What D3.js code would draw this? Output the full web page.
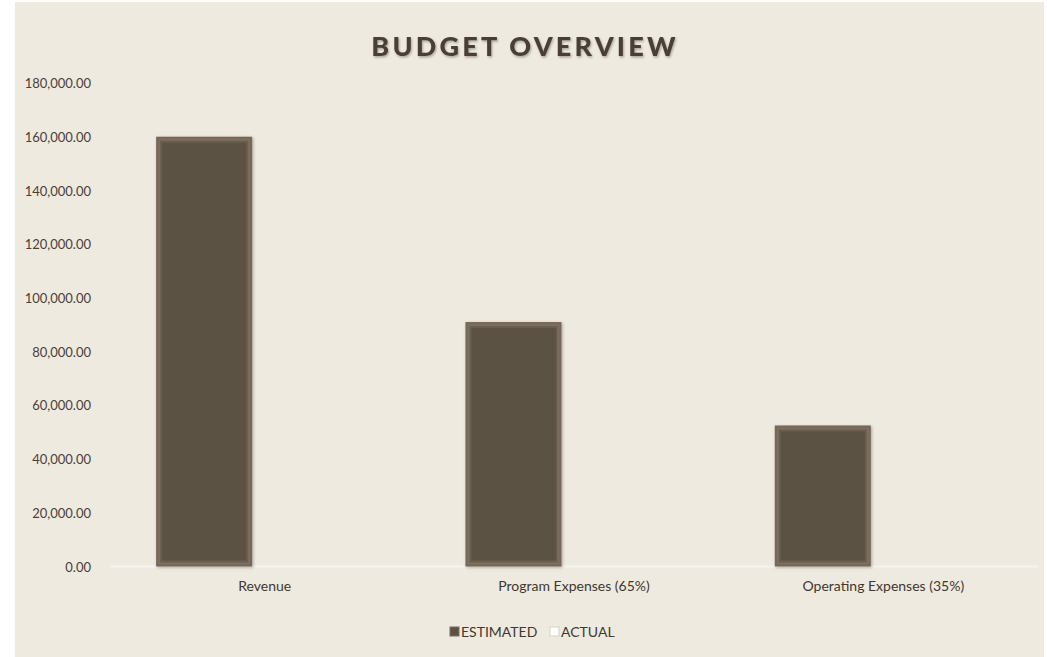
<!DOCTYPE html>
<html><head><meta charset="utf-8">
<script src="https://cdn.jsdelivr.net/npm/d3@7"></script>
<style>
html,body{margin:0;padding:0;background:#fff;}
svg{display:block;}
text{font-family:Lato,"Open Sans",sans-serif;}
</style></head>
<body>
<svg id="chart" width="1047" height="657"></svg>
<script>
const categories = ["Revenue", "Program Expenses (65%)", "Operating Expenses (35%)"];
const series = ["ESTIMATED", "ACTUAL"];
const estimated = [160000, 91000, 52500];
const actual = [0, 0, 0];
const yTicks = [0, 20000, 40000, 60000, 80000, 100000, 120000, 140000, 160000, 180000];
const title = "BUDGET OVERVIEW";

(function(){
const svg = d3.select("#chart");
const W = 1047, H = 657;
const defs = svg.append("defs");
const shadow = defs.append("filter").attr("id","sh").attr("x","-20%").attr("y","-20%").attr("width","140%").attr("height","140%");
shadow.append("feDropShadow").attr("dx",1).attr("dy",1).attr("stdDeviation",1.5).attr("flood-color","#000").attr("flood-opacity",0.3);
const tsh = defs.append("filter").attr("id","tsh").attr("x","-10%").attr("y","-30%").attr("width","120%").attr("height","160%");
tsh.append("feDropShadow").attr("dx",1).attr("dy",1.5).attr("stdDeviation",1.2).attr("flood-color","#000").attr("flood-opacity",0.3);

svg.append("rect").attr("x",15).attr("y",2).attr("width",1029).attr("height",H-2).attr("fill","#EEEADF");

const pLeft = 110, pRight = 1038, pTop = 83, pBottom = 566.5;
const x0 = d3.scaleBand().domain(categories).range([pLeft, pRight]).paddingInner(0).paddingOuter(0);
const x1 = d3.scaleBand().domain(series).range([0, x0.bandwidth()]).paddingInner(0.2066).paddingOuter(0.381);
const y = d3.scaleLinear().domain([0, 180000]).range([pBottom, pTop]);

const yAxis = d3.axisLeft(y).tickValues(yTicks).tickSize(0).tickPadding(0)
  .tickFormat(d => d3.format(",.2f")(d));
const yg = svg.append("g").attr("transform", `translate(91,0)`).call(yAxis);
yg.select(".domain").remove();
yg.selectAll("text").attr("font-size", 13).attr("fill", "#4A4038").attr("dy","0.35em");

svg.append("line").attr("x1", pLeft).attr("x2", pRight).attr("y1", y(0)).attr("y2", y(0))
  .attr("stroke", "#F6F3EE").attr("stroke-width", 2);

const data = categories.map((c, i) => ({cat: c, vals: [{s: "ESTIMATED", v: estimated[i]}, {s: "ACTUAL", v: actual[i]}]}));
const groups = svg.append("g").selectAll("g").data(data).join("g")
  .attr("transform", d => `translate(${x0(d.cat)},0)`);
groups.selectAll("g.bar").data(d => d.vals.filter(v => v.v > 0)).join("g").attr("class","bar")
  .each(function(d) {
    const g = d3.select(this);
    const bx = x1(d.s), bw = x1.bandwidth(), by = y(d.v), bh = y(0) - y(d.v);
    g.append("rect").attr("x", bx).attr("y", by).attr("width", bw).attr("height", bh)
      .attr("fill", "#756858").attr("filter", "url(#sh)");
    g.append("rect").attr("x", bx + 2).attr("y", by + 2).attr("width", bw - 4).attr("height", bh - 4)
      .attr("fill", "#7D6F60");
    g.append("rect").attr("x", bx + 4).attr("y", by + 4).attr("width", bw - 8).attr("height", bh - 8)
      .attr("fill", "#6A5E4F");
    g.append("rect").attr("x", bx + 6).attr("y", by + 6).attr("width", bw - 12).attr("height", bh - 12)
      .attr("fill", "#5B5243");
  });

const xAxis = d3.axisBottom(x0).tickSize(0).tickPadding(0);
const xg = svg.append("g").attr("transform", `translate(0,${pBottom + 20})`).call(xAxis);
xg.select(".domain").remove();
xg.selectAll("text").attr("font-size", 14).attr("fill", "#3F3830").attr("dy", "0.35em");

svg.append("text").attr("x", 525).attr("y", 47).attr("text-anchor", "middle").attr("dy","0.35em")
  .attr("font-size", 27).attr("font-weight", 900).attr("letter-spacing", 3.2)
  .attr("fill", "#4A3F36").attr("filter", "url(#tsh)").text(title);

const lg = svg.append("g");
const legendColors = {"ESTIMATED": "#5B5243", "ACTUAL": "#FFFFFF"};
const legendX = [450, 550];
series.forEach((s, i) => {
  lg.append("rect").attr("x", legendX[i]).attr("y", 627).attr("width", 9).attr("height", 9)
    .attr("fill", legendColors[s]).attr("stroke", s === "ACTUAL" ? "#D8D2C6" : "#7A6C5E").attr("stroke-width", 1);
  lg.append("text").attr("x", legendX[i] + 11).attr("y", 632).attr("dy","0.35em")
    .attr("font-size", 14).attr("fill", "#3F3830").text(s);
});
})();
</script>
</body></html>
